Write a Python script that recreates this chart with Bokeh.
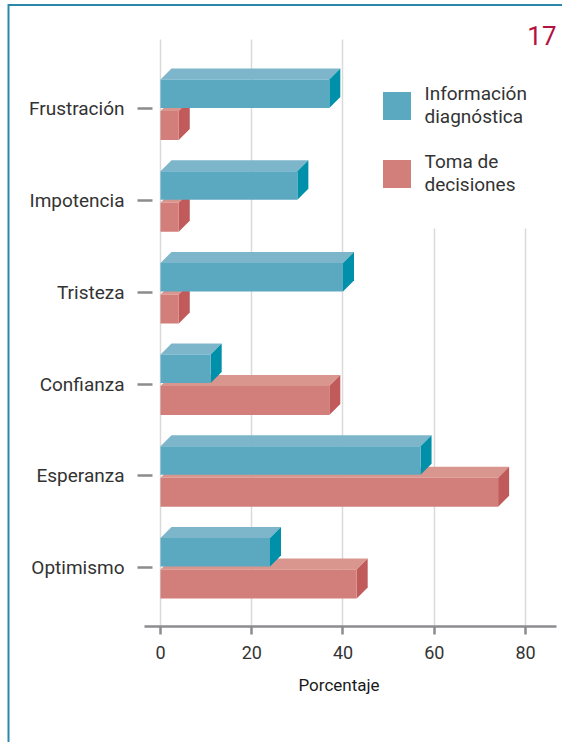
from bokeh.plotting import figure
from bokeh.models import (Range1d, FixedTicker, Legend, LegendItem, Label, Grid, Title)
from bokeh.embed import file_html
from bokeh.resources import INLINE

# ---------------- data ----------------
categories = ["Frustración", "Impotencia", "Tristeza", "Confianza", "Esperanza", "Optimismo"]
series_names = ["Información\ndiagnóstica", "Toma de\ndecisiones"]
info_diag = [37, 30, 40, 11, 57, 24]
toma_dec = [4, 4, 4, 37, 74, 43]
x_ticks = [0, 20, 40, 60, 80]
x_title = "Porcentaje"
figure_number = "17"

# ---------------- styles ----------------
FONT = "Roboto"
W, H = 562, 742
FRAME_L, FRAME_R, FRAME_T, FRAME_B = 144, 556, 0, 626
x_start, x_end = -3.507, 86.795
y_start, y_end = -0.643, 6.183
px_x = (FRAME_R - FRAME_L) / (x_end - x_start)
px_y = (FRAME_B - FRAME_T) / (y_end - y_start)
DEPTH = 11  # px
dx = DEPTH / px_x
dy = DEPTH / px_y
blue = dict(front="#5BA8C1", top="#7DB6CB", side="#0090A9", y0=1 / px_y, y1=29.5 / px_y)
red = dict(front="#D27F7B", top="#D9968F", side="#C15A5B", y0=-31 / px_y, y1=-2 / px_y)
GRID_TOP = 5.758        # top of the grid lines (y data)
GRID_TOP_RIGHT = 3.697  # grid lines under the legend stop here

n = len(categories)
ypos = [n - 1 - i for i in range(n)]

p = figure(width=W, height=H, output_backend="svg", toolbar_location=None,
           x_range=Range1d(x_start, x_end), y_range=Range1d(y_start, y_end),
           min_border_left=FRAME_L, min_border_right=W - FRAME_R,
           min_border_top=FRAME_T, min_border_bottom=H - FRAME_B)
p.outline_line_color = None
p.background_fill_color = None
p.border_fill_color = None
p.styles = {"box-shadow": "inset 7.5px 4px 0 0 white, inset 9.5px 6px 0 0 #2B88AA"}


def draw_series(vals, st):
    tx, ty, sx, sy = [], [], [], []
    lefts, rights, bottoms, tops = [], [], [], []
    for v, c in zip(vals, ypos):
        b, t = c + st["y0"], c + st["y1"]
        lefts.append(0); rights.append(v); bottoms.append(b); tops.append(t)
        tx.append([0, v, v + dx, dx]); ty.append([t, t, t + dy, t + dy])
        sx.append([v, v + dx, v + dx, v]); sy.append([b, b + dy, t + dy, t])
    p.patches(tx, ty, fill_color=st["top"], line_color=None)
    p.patches(sx, sy, fill_color=st["side"], line_color=None)
    r = p.quad(left=lefts, right=rights, bottom=bottoms, top=tops,
               fill_color=st["front"], line_color=None)
    return r


# grids (drawn under bars)
p.ygrid.grid_line_color = None
p.xgrid.ticker = FixedTicker(ticks=x_ticks[:3])
p.xgrid.grid_line_color = "#DADADA"
p.xgrid.grid_line_width = 1.5
p.xgrid.cross_bounds = (y_start, GRID_TOP)
g2 = Grid(dimension=0, ticker=FixedTicker(ticks=x_ticks[3:]),
          grid_line_color="#DADADA", grid_line_width=1.5,
          cross_bounds=(y_start, GRID_TOP_RIGHT))
p.add_layout(g2)

r_red = draw_series(toma_dec, red)
r_blue = draw_series(info_diag, blue)

# axes
p.xaxis.ticker = FixedTicker(ticks=x_ticks)
p.xaxis.axis_line_color = "#8C8C90"
p.xaxis.axis_line_width = 2.5
p.xaxis.major_tick_line_color = "#8C8C90"
p.xaxis.major_tick_line_width = 2.5
p.xaxis.major_tick_out = 8
p.xaxis.major_tick_in = 0
p.xaxis.minor_tick_line_color = None
p.xaxis.major_label_text_font = FONT
p.xaxis.major_label_text_font_size = "18px"
p.xaxis.major_label_text_color = "#333333"
p.xaxis.major_label_standoff = 11

p.yaxis.ticker = FixedTicker(ticks=ypos)
p.yaxis.major_label_overrides = {y: c for y, c in zip(ypos, categories)}
p.yaxis.axis_line_color = None
p.yaxis.major_tick_line_color = "#8C8C90"
p.yaxis.major_tick_line_width = 2.5
p.yaxis.major_tick_out = 7
p.yaxis.major_tick_in = 8
p.yaxis.minor_tick_line_color = None
p.yaxis.major_label_text_font = FONT
p.yaxis.major_label_text_font_size = "19px"
p.yaxis.major_label_text_color = "#333333"
p.yaxis.major_label_standoff = 13

# legend
legend = Legend(items=[LegendItem(label=series_names[0], renderers=[r_blue]),
                       LegendItem(label=series_names[1], renderers=[r_red])],
                location=(234.5, 430), glyph_width=35, glyph_height=35,
                label_text_font=FONT, label_text_font_size="19px",
                label_text_line_height=1.16,
                label_text_color="#333333", label_standoff=11, spacing=22,
                padding=8, background_fill_alpha=0, border_line_color=None)
p.add_layout(legend)

# x title and figure number
p.add_layout(Title(text=x_title, align="left", offset=154, text_font=FONT,
                   text_font_size="17px", text_color="#1a1a1a",
                   text_font_style="normal", standoff=22), "below")
p.add_layout(Label(x=x_end, y=5.802, text=figure_number, text_font=FONT,
                   text_font_size="26px", text_color="#B3123F", text_align="right",
                   text_baseline="middle"))

open("out.html", "w").write(file_html(p, INLINE))
